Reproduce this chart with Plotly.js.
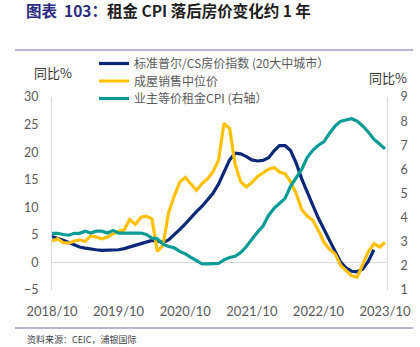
<!DOCTYPE html>
<html><head><meta charset="utf-8">
<script src="https://cdn.plot.ly/plotly-3.0.1.min.js"></script>
<style>html,body{margin:0;padding:0;background:#fff}#c{width:420px;height:347px}</style>
</head><body><div id="c"></div>
<script>
// monthly categories 2018/10 .. 2023/10
const startYear = 2018, startMonth = 10, nMonths = 61;
const months = [];
for (let i = 0; i < nMonths; i++) {
  const t = startMonth - 1 + i;
  const y = startYear + Math.floor(t / 12), m = (t % 12) + 1;
  months.push(y + '-' + String(m).padStart(2, '0') + '-01');
}
const tickVals = ['2018-10-01','2019-10-01','2020-10-01','2021-10-01','2022-10-01','2023-10-01'];
const tickText = ['2018/10','2019/10','2020/10','2021/10','2022/10','2023/10'];

const seriesNames = ['标准普尔/CS房价指数 (20大中城市）', '成屋销售中位价', '业主等价租金CPI (右轴）'];
// S&P/Case-Shiller 20-city YoY %, 2018/10 .. 2023/08
const caseShiller = [4.7,4.4,4.0,3.6,3.1,2.8,2.6,2.4,2.3,2.2,
  2.2,2.2,2.3,2.5,2.8,3.1,3.5,3.8,4.0,3.9,
  3.6,4.1,5.0,6.0,7.0,8.2,9.2,10.2,11.3,12.5,
  14.2,16.5,18.6,19.8,19.7,19.2,18.6,18.4,18.5,19.0,
  20.3,21.2,21.2,20.3,18.0,15.2,12.6,10.3,8.0,5.8,
  4.0,2.0,0.0,-1.0,-1.6,-1.7,-1.2,0.2,2.3];
// Existing home median price YoY %, 2018/10 .. 2023/10
const medianPrice = [3.9,4.3,3.6,3.5,3.9,4.1,3.8,4.8,4.6,4.3,
  4.6,5.2,5.6,5.9,7.8,6.9,8.2,8.4,7.9,2.0,
  3.1,9.0,12.0,14.6,15.4,14.3,13.1,14.3,15.2,16.4,
  18.5,25.2,24.3,17.8,14.6,13.7,14.5,15.6,16.2,16.9,
  17.2,16.4,16.1,14.6,12.5,9.6,8.4,7.6,5.8,3.6,
  2.4,1.5,-0.6,-1.5,-2.4,-2.7,-0.4,1.9,3.4,2.8,
  3.6];
// Owners' equivalent rent CPI YoY % (right axis), 2018/10 .. 2023/10
const oerCPI = [3.35,3.35,3.3,3.27,3.35,3.35,3.44,3.36,3.44,3.44,
  3.36,3.47,3.36,3.36,3.36,3.36,3.36,3.3,3.15,3.12,
  2.9,2.8,2.75,2.6,2.5,2.35,2.2,2.08,2.08,2.08,
  2.1,2.25,2.35,2.4,2.55,2.8,3.1,3.4,3.65,4.1,
  4.4,4.6,4.8,5.3,5.65,6.0,6.5,6.8,7.0,7.15,
  7.5,7.8,8.0,8.05,8.1,8.0,7.8,7.55,7.25,7.05,
  6.85];

const colors = ['#0b2878', '#ffc000', '#0a9b95'];
const cjk = '"Noto Sans CJK SC", "Noto Sans", sans-serif';
const num = 'Lato, "Open Sans", sans-serif';

const traces = [
  {x: months.slice(0, caseShiller.length), y: caseShiller, name: seriesNames[0], type: 'scatter', mode: 'lines',
   line: {color: colors[0], width: 3.2}, legend: 'legend'},
  {x: months.slice(0, medianPrice.length), y: medianPrice, name: seriesNames[1], type: 'scatter', mode: 'lines',
   line: {color: colors[1], width: 3.2}, legend: 'legend2'},
  {x: months.slice(0, oerCPI.length), y: oerCPI, name: seriesNames[2], type: 'scatter', mode: 'lines', yaxis: 'y2',
   line: {color: colors[2], width: 3.2}, legend: 'legend3'}
];

// plot area: x 52..387, y 97..290
const T = 97, B = 57, L = 52, R = 33, W = 420 - L - R, H = 347 - T - B;
const py = yy => (347 - B - yy) / H;
const px = xx => (xx - L) / W;

const legBase = {xanchor: 'left', yanchor: 'middle', bgcolor: 'rgba(0,0,0,0)', borderwidth: 0,
  font: {family: cjk, size: 12, color: '#595959'}, itemwidth: 30, tracegroupgap: 0};

const layout = {
  width: 420, height: 347,
  margin: {l: L, r: R, t: T, b: B, pad: 0},
  paper_bgcolor: '#fff', plot_bgcolor: '#fff',
  showlegend: true,
  title: {text: '<span style="color:#2b2b80">图表  103：</span>租金 CPI 落后房价变化约 1 年',
    font: {family: cjk, size: 15.5, color: '#1e1e1e', weight: 'bold'},
    xref: 'container', yref: 'container', x: 26 / 420, xanchor: 'left', y: 1 - 12 / 347, yanchor: 'middle'},
  legend: Object.assign({}, legBase, {x: px(94), y: py(63.5)}),
  legend2: Object.assign({}, legBase, {x: px(94), y: py(81)}),
  legend3: Object.assign({}, legBase, {x: px(94), y: py(98.5)}),
  xaxis: {type: 'date', range: ['2018-10-01', '2023-10-12'], tickvals: tickVals, ticktext: tickText,
    showgrid: false, zeroline: false, showline: false, ticks: 'outside', ticklen: 9, tickcolor: 'rgba(0,0,0,0)',
    tickfont: {family: num, size: 13, color: '#595959'}},
  yaxis: {range: [-5, 30], dtick: 5, tick0: 0, showgrid: false, zeroline: true, zerolinecolor: '#d9d9d9', zerolinewidth: 1,
    showline: true, linecolor: '#d9d9d9', linewidth: 1, ticks: 'outside', ticklen: 10, tickcolor: 'rgba(0,0,0,0)',
    tickfont: {family: num, size: 12.5, color: '#595959'}},
  yaxis2: {range: [1, 9], dtick: 1, tick0: 1, overlaying: 'y', side: 'right', showgrid: false, zeroline: false,
    showline: true, linecolor: '#d9d9d9', linewidth: 1, ticks: 'outside', ticklen: 10, tickcolor: 'rgba(0,0,0,0)',
    tickfont: {family: num, size: 12.5, color: '#595959'}},
  shapes: [
    {type: 'line', xref: 'paper', yref: 'paper', x0: px(15), x1: px(413), y0: py(50), y1: py(50),
     line: {color: '#6e6ea8', width: 1}},
    {type: 'line', xref: 'paper', yref: 'paper', x0: px(15), x1: px(413), y0: py(328), y1: py(328),
     line: {color: '#6e6ea8', width: 1}}
  ],
  annotations: [
    {text: '同比%', xref: 'paper', yref: 'paper', x: px(53), y: py(72), xanchor: 'center', yanchor: 'middle',
     showarrow: false, font: {family: cjk, size: 13, color: '#333'}},
    {text: '同比%', xref: 'paper', yref: 'paper', x: px(388), y: py(77), xanchor: 'center', yanchor: 'middle',
     showarrow: false, font: {family: cjk, size: 13, color: '#333'}},
    {text: '资料来源：CEIC，浦银国际', xref: 'paper', yref: 'paper', x: px(25), y: py(339), xanchor: 'left', yanchor: 'middle',
     showarrow: false, font: {family: cjk, size: 9, color: '#404040'}}
  ]
};

Plotly.newPlot('c', traces, layout, {displayModeBar: false, staticPlot: true});
</script></body></html>
